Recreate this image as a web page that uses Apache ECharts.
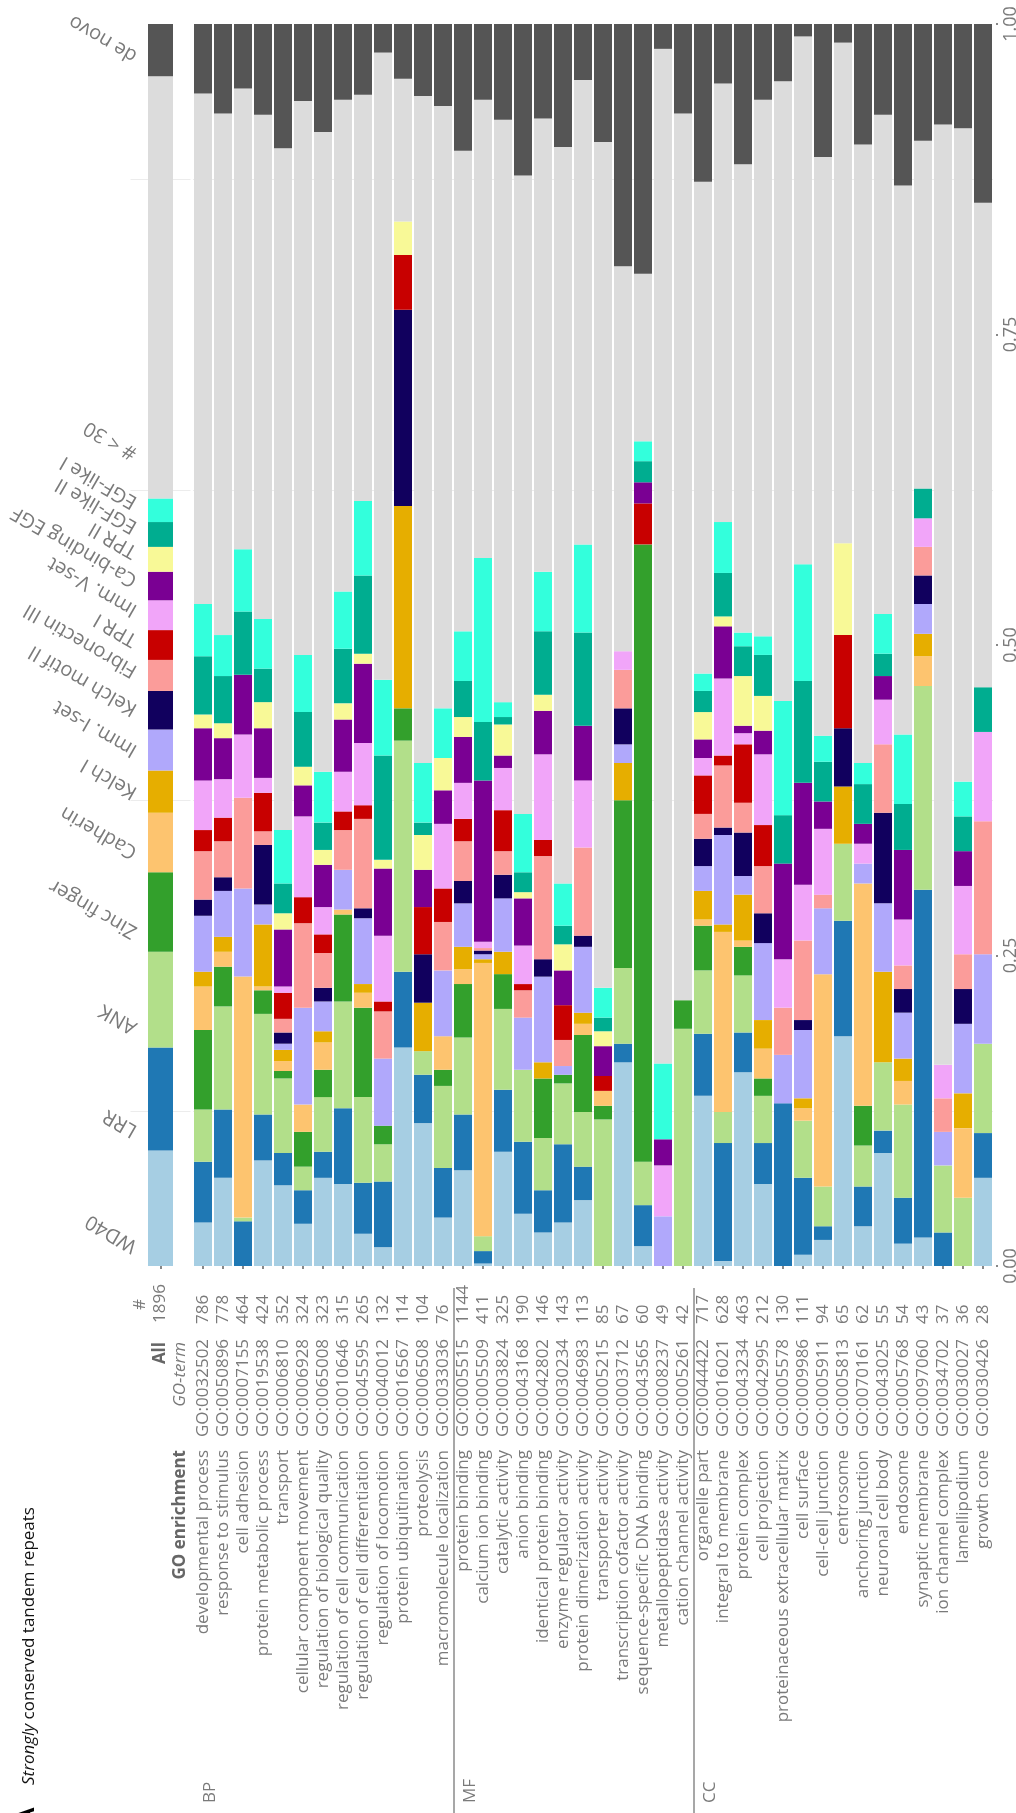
<!DOCTYPE html>
<html><head><meta charset="utf-8">
<script src="https://cdn.jsdelivr.net/npm/echarts@6/dist/echarts.min.js"></script>
<style>html,body{margin:0;padding:0;background:#fff}#c{width:1016px;height:1813px}</style>
</head><body><div id="c"></div>
<script>
// ---------- data ----------
const seriesNames = ['WD40','LRR','ANK','Zinc finger','Cadherin','Kelch I','Imm. I-set','Kelch motif II','Fibronectin III','TPR I','Imm. V-set','Ca-binding EGF','TPR II','EGF-like II','EGF-like I','# < 30','de novo'];
const seriesColors = ['#a6cee3','#1f78b4','#b2df8a','#33a02c','#fdc46f','#e6ae00','#b0a8fb','#11005e','#fb9c9a','#c80000','#f1a5f9','#7a0093','#f8f997','#00ad90','#33ffdc','#dcdcdc','#555555'];

const termNames = ['developmental process','response to stimulus','cell adhesion','protein metabolic process','transport','cellular component movement','regulation of biological quality','regulation of cell communication','regulation of cell differentiation','regulation of locomotion','protein ubiquitination','proteolysis','macromolecule localization',
'protein binding','calcium ion binding','catalytic activity','anion binding','identical protein binding','enzyme regulator activity','protein dimerization activity','transporter activity','transcription cofactor activity','sequence-specific DNA binding','metallopeptidase activity','cation channel activity',
'organelle part','integral to membrane','protein complex','cell projection','proteinaceous extracellular matrix','cell surface','cell-cell junction','centrosome','anchoring junction','neuronal cell body','endosome','synaptic membrane','ion channel complex','lamellipodium','growth cone'];
const goIds = ['GO:0032502','GO:0050896','GO:0007155','GO:0019538','GO:0006810','GO:0006928','GO:0065008','GO:0010646','GO:0045595','GO:0040012','GO:0016567','GO:0006508','GO:0033036',
'GO:0005515','GO:0005509','GO:0003824','GO:0043168','GO:0042802','GO:0030234','GO:0046983','GO:0005215','GO:0003712','GO:0043565','GO:0008237','GO:0005261',
'GO:0044422','GO:0016021','GO:0043234','GO:0042995','GO:0005578','GO:0009986','GO:0005911','GO:0005813','GO:0070161','GO:0043025','GO:0005768','GO:0097060','GO:0034702','GO:0030027','GO:0030426'];
const termCounts = [786,778,464,424,352,324,323,315,265,132,114,104,76, 1144,411,325,190,146,143,113,85,67,60,49,42, 717,628,463,212,130,111,94,65,62,55,54,43,37,36,28];
const groupNames = ['BP','MF','CC'];
const groupSizes = [13,12,15];
const allCount = 1896;
const allValues = [.093,.083,.077,.064,.048,.034,.033,.031,.025,.024,.024,.023,.020,.020,.019,.340,.042];
const tickValues = [0, 0.25, 0.5, 0.75, 1];

const wd40 = [.035,.071,0,.085,.065,.034,.071,.066,.026,.015,.176,.115,.039, .077,.002,.092,.042,.027,.035,.053,0,.164,.016,0,0, .137,.004,.156,.066,0,.009,.021,.185,.032,.091,.018,.023,0,0,.071];
const lrr = [.049,.055,.036,.037,.026,.027,.021,.061,.041,.053,.061,.039,.040, .045,.010,.050,.058,.034,.063,.027,0,.015,.033,0,0, .050,.095,.032,.033,.131,.062,.011,.093,.032,.018,.037,.280,.027,0,.036];
const ank = [.042,.083,.003,.081,.060,.019,.044,.086,.069,.030,.186,.019,.066, .062,.012,.065,.058,.042,.049,.044,.118,.061,.035,0,.191, .051,.025,.046,.038,0,.046,.032,.062,.033,.055,.075,.164,.054,.055,.072];
const zincFinger = [.064,.032,0,.019,.006,.028,.022,.070,.072,.015,.026,0,.013, .043,0,.028,0,.048,.007,.062,.011,.135,.497,0,.023, .036,0,.023,.014,0,0,0,0,.032,0,0,0,0,0,0];
const cadherin = [.035,.012,.194,.003,.008,.022,.022,.004,.012,0,0,0,.027, .012,.220,0,0,0,0,.009,.012,0,0,0,0, .005,.145,.005,.024,0,.010,.171,0,.179,0,.019,.024,0,.056,0];
const kelchI = [.012,.012,0,.050,.009,0,.009,0,.007,0,.163,.039,0, .018,.003,.018,0,.013,0,.009,0,.030,0,0,0, .023,.006,.037,.023,0,.008,0,.046,0,.073,.018,.018,0,.028,0];
const immISet = [.045,.037,.071,.016,.005,.078,.024,.032,.053,.054,0,0,.053, .035,.004,.043,.042,.069,.007,.053,0,.015,0,.040,0, .020,.072,.015,.062,.039,.055,.053,0,.016,.055,.037,.024,.027,.056,.072];
const kelchMotifII = [.013,.011,0,.048,.009,0,.011,0,.008,0,.158,.039,0, .018,.003,.019,0,.014,0,.009,0,.029,0,0,0, .022,.006,.035,.024,0,.008,0,.047,0,.073,.019,.023,0,.028,0];
const fibronectinIII = [.039,.029,.073,.011,.011,.068,.028,.032,.072,.038,0,0,.039, .032,.002,.019,.022,.083,.021,.071,0,.031,0,0,0, .020,.050,.024,.038,.038,.064,.011,0,0,.055,.019,.023,.027,.028,.107];
const tprI = [.017,.019,0,.031,.021,.021,.015,.015,.011,.008,.044,.038,.027, .018,0,.033,.005,.013,.028,0,.012,0,.033,0,0, .031,.008,.047,.033,0,0,0,.075,0,0,0,0,0,0,0];
const immVSet = [.040,.031,.051,.012,.005,.065,.022,.032,.050,.053,0,0,.052, .029,.005,.034,.031,.069,0,.054,0,.015,0,.041,0, .014,.062,.009,.057,.039,.045,.053,0,.016,.036,.037,.023,.027,.055,.072];
const caBindingEGF = [.042,.033,.048,.040,.046,.025,.034,.042,.064,.054,0,.030,.027, .037,.130,.010,.038,.035,.028,.044,.024,0,.017,.021,0, .015,.042,.006,.019,.077,.082,.022,0,.016,.019,.056,0,0,.028,0];
const tprII = [.011,.012,0,.021,.013,.015,.012,.013,.008,.007,.027,.028,.026, .016,0,.025,.005,.013,.021,0,.012,0,0,0,0, .022,.008,.040,.028,0,0,0,.074,0,0,0,0,0,0,0];
const egfLikeII = [.047,.038,.051,.027,.024,.044,.022,.044,.063,.084,0,.010,0, .029,.047,.006,.016,.051,.015,.075,.011,0,.017,0,0, .017,.035,.024,.033,.039,.082,.032,0,.032,.018,.037,.024,0,.028,.036];
const egfLikeI = [.042,.033,.050,.040,.043,.046,.041,.046,.060,.061,0,.048,.040, .040,.132,.012,.047,.048,.034,.071,.024,0,.016,.061,0, .014,.041,.011,.015,.092,.094,.021,0,.017,.032,.056,0,0,.028,0];
const under30 = [.411,.420,.371,.406,.549,.446,.515,.396,.327,.505,.115,.537,.485, .387,.369,.469,.514,.365,.593,.374,.681,.310,.135,.817,.714, .396,.353,.377,.432,.499,.425,.466,.403,.498,.402,.442,.280,.757,.526,.390];
const deNovo = [.056,.072,.052,.073,.100,.062,.087,.061,.057,.023,.044,.058,.066, .102,.061,.077,.122,.076,.099,.045,.095,.195,.201,.020,.072, .127,.048,.113,.061,.046,.010,.107,.015,.097,.073,.130,.094,.081,.084,.144];

const seriesValues = [wd40,lrr,ank,zincFinger,cadherin,kelchI,immISet,kelchMotifII,fibronectinIII,tprI,immVSet,caBindingEGF,tprII,egfLikeII,egfLikeI,under30,deNovo];

// ---------- chart ----------
const FONT = 'Open Sans';
const GRAY = '#7a7a7a';
const chart = echarts.init(document.getElementById('c'), null, {renderer: 'canvas'});

const series = [];
seriesValues.forEach((arr, i) => series.push({
  type: 'bar', name: seriesNames[i], xAxisIndex: 0, yAxisIndex: 0, stack: 'go',
  barWidth: 18, data: arr, itemStyle: {color: seriesColors[i]}, silent: true
}));
allValues.forEach((v, i) => series.push({
  type: 'bar', name: seriesNames[i] + ' (All)', xAxisIndex: 1, yAxisIndex: 2, stack: 'all',
  barWidth: 25, data: ['-', v, '-'], itemStyle: {color: seriesColors[i]}, silent: true
}));

const axisLabelBase = {interval: 0, rotate: 90, margin: 7, fontSize: 17, color: GRAY, fontFamily: FONT};
const splitCycle = {show: true, lineStyle: {color: ['rgba(0,0,0,0)', '#ececec'], width: 1}};

const option = {
  animation: false,
  backgroundColor: '#fff',
  textStyle: {fontFamily: FONT},
  grid: [
    {left: 193, right: 23, top: 24, height: 1242, containLabel: false, outerBoundsMode: 'none'},
    {left: 130.5, width: 60, top: 24, height: 1242, containLabel: false, outerBoundsMode: 'none'}
  ],
  xAxis: [
    {type: 'category', gridIndex: 0, data: termNames, position: 'bottom', offset: 11,
     axisLine: {show: false},
     axisTick: {show: true, alignWithLabel: true, length: 3, lineStyle: {color: '#888', width: 2}},
     axisLabel: Object.assign({}, axisLabelBase, {
       formatter: (v, i) => `{nm|${termNames[i]}}{g| }{go|${goIds[i]}}{s| }{n|${termCounts[i]}}`,
       rich: {
         nm: {align: 'left'}, g: {width: 13, align: 'left'}, go: {width: 95, align: 'left'},
         s: {width: 18, align: 'left'}, n: {width: 40, align: 'left'}
       }
     }),
     splitLine: {show: false}},
    {type: 'category', gridIndex: 1, data: ['#', 'All', 'GO enrichment'], position: 'bottom', offset: 11,
     axisLine: {show: false},
     axisTick: {show: true, alignWithLabel: true, length: 3, interval: (i) => i === 1, lineStyle: {color: '#888', width: 2}},
     axisLabel: Object.assign({}, axisLabelBase, {
       formatter: (v, i) => i === 0 ? '{hash|#}{p15| }'
         : i === 1 ? `{allb|All}{sR| }{nR|${allCount}}`
         : '{hb|GO enrichment}{g| }{goR|GO-term}{sR| }{nR| }',
       rich: {
         hash: {align: 'right'}, p15: {width: 15, align: 'right'},
         allb: {width: 95, align: 'right', fontWeight: 'bold', color: '#666'},
         sR: {width: 18, align: 'right'}, nR: {width: 40, align: 'right'},
         hb: {align: 'left', fontWeight: 'bold', color: '#666'}, g: {width: 13, align: 'left'},
         goR: {width: 95, align: 'right', fontStyle: 'italic'}
       }
     }),
     splitLine: {show: false}}
  ],
  yAxis: [
    {type: 'value', gridIndex: 0, min: 0, max: 1, interval: 0.25, position: 'right', offset: 3,
     axisLine: {show: false},
     axisTick: {show: true, length: 2, lineStyle: {color: '#888', width: 2}},
     axisLabel: {rotate: 90, margin: 6, fontSize: 18, color: GRAY, fontFamily: FONT,
                 formatter: v => tickValues.includes(v) ? v.toFixed(2) : ''},
     splitLine: {show: false}},
    {type: 'value', gridIndex: 0, min: 0, max: 1, interval: 0.125, position: 'left',
     axisLine: {show: false}, axisTick: {show: false}, axisLabel: {show: false}, splitLine: splitCycle},
    {type: 'value', gridIndex: 1, min: 0, max: 1, interval: 0.125,
     axisLine: {show: false}, axisTick: {show: false}, axisLabel: {show: false}, splitLine: splitCycle}
  ],
  series: series
};
chart.setOption(option);

// ---------- annotations placed through the axis scales ----------
const px = name => chart.convertToPixel({xAxisIndex: 0}, name);
const textStyle = (extra) => Object.assign({fill: GRAY, fontSize: 17, fontFamily: FONT, align: 'left', verticalAlign: 'middle'}, extra);
const gfx = [];

// segment labels of the "All" column, anchored at the bottom of each segment
const legendBase = seriesNames.map((n, i) => allValues.slice(0, i).reduce((a, b) => a + b, 0));
const extraLift = {'# < 30': 25};
seriesNames.forEach((n, i) => {
  const p = chart.convertToPixel({gridIndex: 1}, [1, legendBase[i]]);
  gfx.push({type: 'text', x: p[0] - 30, y: p[1] - 10 - (extraLift[n] || 0),
    rotation: 150 * Math.PI / 180, silent: true, z: 10,
    style: textStyle({text: n, fontSize: 20, verticalAlign: 'top'})});
});

// group separators and group names
let start = 0;
groupSizes.forEach((size, g) => {
  const firstX = px(termNames[start]);
  if (g > 0) {
    const bx = (px(termNames[start - 1]) + firstX) / 2 + 1;
    gfx.push({type: 'line', shape: {x1: bx, y1: 1288, x2: bx, y2: 1813}, style: {stroke: '#8a8a8a', lineWidth: 1.5}, silent: true});
  }
  gfx.push({type: 'text', x: firstX + 7, y: 1803, rotation: Math.PI / 2, silent: true,
    style: textStyle({text: groupNames[g]})});
  start += size;
});

// title with italic first word
const ctx = document.createElement('canvas').getContext('2d');
ctx.font = 'italic 17px "' + FONT + '"';
const w1 = ctx.measureText('Strongly').width;
gfx.push({type: 'group', x: 29, y: 1785, rotation: Math.PI / 2, silent: true, children: [
  {type: 'text', x: 0, y: 0, style: textStyle({text: 'Strongly', fill: '#111', fontStyle: 'italic'})},
  {type: 'text', x: w1, y: 0, style: textStyle({text: ' conserved tandem repeats', fill: '#111'})}
]});
gfx.push({type: 'text', x: 27, y: 1824, rotation: Math.PI / 2, silent: true,
  style: textStyle({text: 'A', fill: '#000', fontSize: 24, fontWeight: 'bold'})});
chart.setOption({graphic: gfx});
</script>
</body></html>
